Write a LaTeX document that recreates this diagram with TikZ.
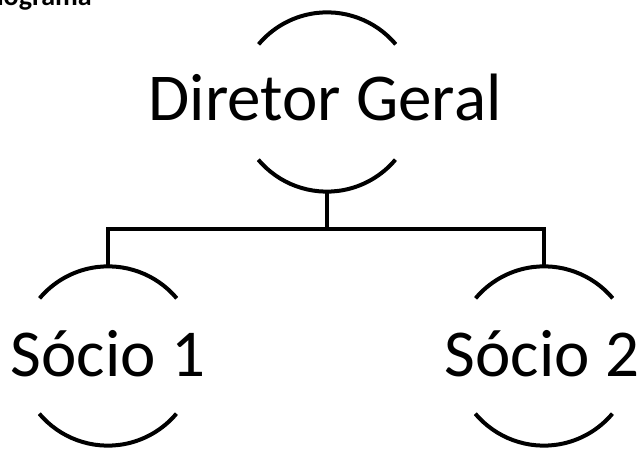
\documentclass[tikz,border=0pt]{standalone}
\usepackage{fontspec}
\setmainfont{Carlito}
\begin{document}
\begin{tikzpicture}[x=1pt,y=1pt,
  ring/.style={circle, minimum size=179pt, inner sep=0pt},
  bigtext/.style={anchor=base, inner sep=0pt, font=\fontsize{67}{80}\selectfont},
  arcline/.style={line width=4pt},
  conn/.style={line width=4pt}]
\useasboundingbox (0,0) rectangle (642,449);
\clip (0,0) rectangle (642,449);
\fill[white] (0,0) rectangle (642,449);
% title (cut off at the top and left, as in the reference)
\node[anchor=base east, inner sep=0pt, font=\bfseries\fontsize{28}{34}\selectfont] (title) at (92,443.5) {Organograma};
% circles (only arcs drawn)
\node[ring] (dg) at (327,347) {};
\node[ring] (s1) at (108,93) {};
\node[ring] (s2) at (544,93) {};
\foreach \n in {dg,s1,s2}{
  \draw[arcline] (\n.40) arc[start angle=40, end angle=140, radius=89.5pt];
  \draw[arcline] (\n.220) arc[start angle=220, end angle=320, radius=89.5pt];
}
% texts
\node[bigtext] (dgt) at (325,328) {Diretor Geral};
\node[bigtext] (s1t) at (108,72) {Sócio 1};
\node[bigtext] (s2t) at (542,72) {Sócio 2};
% connectors
\coordinate (bus) at (327,219.5);
\draw[conn] (dg.south) -- (bus);
\draw[conn] (s1.north) |- (bus) -| (s2.north);
\end{tikzpicture}
\end{document}
